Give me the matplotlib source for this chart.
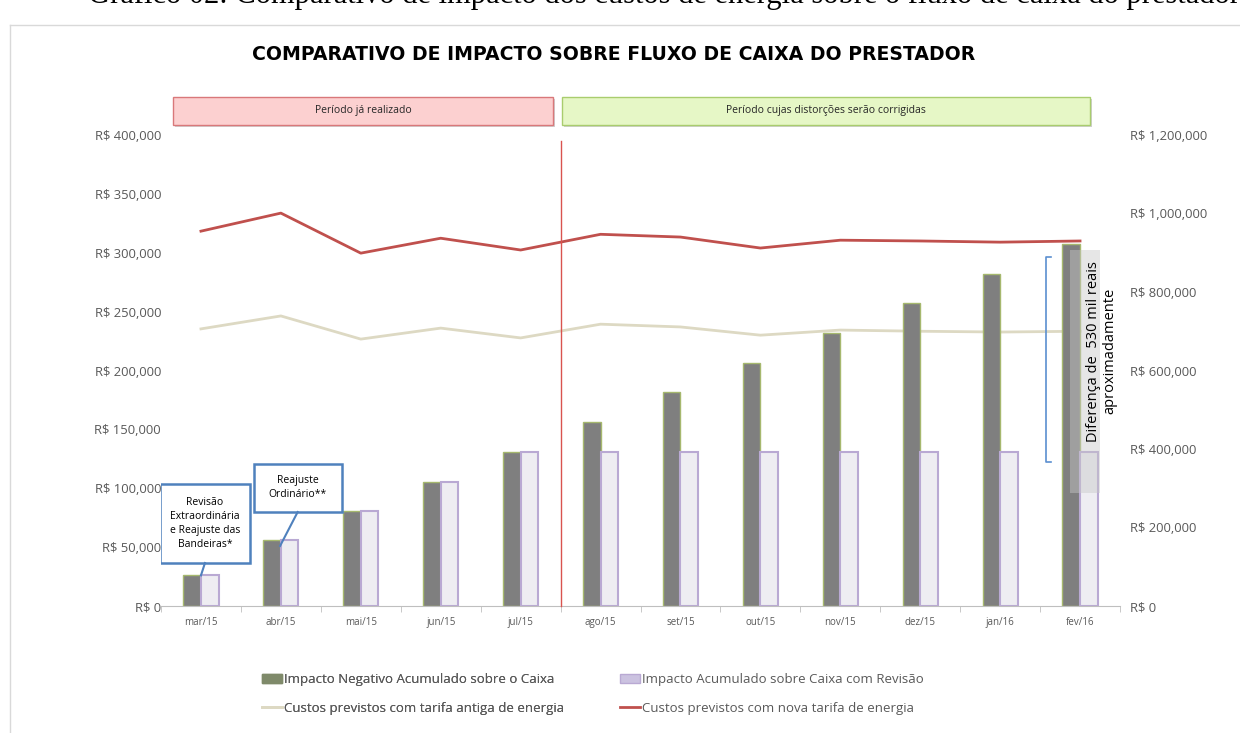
import numpy as np
import matplotlib.pyplot as plt
import matplotlib.patches as mpatches
from matplotlib.lines import Line2D
from matplotlib.ticker import FuncFormatter

months = ["mar/15", "abr/15", "mai/15", "jun/15", "jul/15", "ago/15",
          "set/15", "out/15", "nov/15", "dez/15", "jan/16", "fev/16"]
impacto_negativo = [26000, 56000, 80500, 105500, 130500, 156000,
                    181500, 206500, 232000, 257000, 282000, 307500]
impacto_revisao = [26000, 56000, 80500, 105500, 130500, 130500,
                   130500, 130500, 130500, 130500, 130500, 130500]
custo_antigo = [706000, 739000, 680000, 708000, 683000, 718000,
                711000, 690000, 703000, 700000, 698000, 700000]
custo_novo = [955000, 1001000, 899000, 937000, 907000, 947000,
              940000, 912000, 932000, 930000, 927000, 930000]

left_ticks = [0, 50000, 100000, 150000, 200000, 250000, 300000, 350000, 400000]
right_ticks = [0, 200000, 400000, 600000, 800000, 1000000, 1200000]

FONT = "Open Sans"
GRAY_TXT = "#595959"

fig = plt.figure(figsize=(12.4, 7.33), dpi=100)

# caption of the document (cut at top, as in the source page) and chart frame
fig.text(88 / 1240, 1 - 3.5 / 733, "Gráfico 02: Comparativo de impacto dos custos de energia sobre o fluxo de caixa do prestador",
         family="Liberation Serif", fontsize=22, va="baseline", ha="left")
fig.add_artist(Line2D([10 / 1240, 1], [1 - 25 / 733, 1 - 25 / 733], color="#d9d9d9", lw=1))
fig.add_artist(Line2D([10 / 1240, 10 / 1240], [0, 1 - 25 / 733], color="#d9d9d9", lw=1))

fig.text(614 / 1240, 1 - 54 / 733, "COMPARATIVO DE IMPACTO SOBRE FLUXO DE CAIXA DO PRESTADOR",
         family="DejaVu Sans", fontsize=13.6, fontweight="bold", ha="center", va="center")

# period header boxes
for x0, x1, fc, ec, label in [(173, 553, "#fcd0d0", "#d9787a", "Período já realizado"),
                              (562, 1090, "#e6f7c6", "#a9cd6e", "Período cujas distorções serão corrigidas")]:
    shadow = mpatches.Rectangle(((x0 + 2) / 1240, 1 - 127 / 733), (x1 - x0) / 1240, 28 / 733,
                                transform=fig.transFigure, facecolor="#d0d0d0", edgecolor="none")
    fig.add_artist(shadow)
    box = mpatches.Rectangle((x0 / 1240, 1 - 125 / 733), (x1 - x0) / 1240, 28 / 733,
                             transform=fig.transFigure, facecolor=fc, edgecolor=ec, lw=1)
    fig.add_artist(box)
    fig.text((x0 + x1) / 2 / 1240, 1 - 111 / 733, label, family=FONT, fontsize=7.5,
             ha="center", va="center", color="#262626")

ax = fig.add_axes([161 / 1240, 1 - 606 / 733, 959 / 1240, 471 / 733])
ax2 = ax.twinx()

x = np.arange(len(months))
w = 0.22
ax.bar(x - w / 2, impacto_negativo, width=w, color="#7f7f7f", edgecolor="#a6b86e", lw=1, zorder=2)
ax.bar(x + w / 2, impacto_revisao, width=w, color="#eeedf2", edgecolor="#b9a9d3", lw=1.5, zorder=2)

ax2.plot(x, custo_antigo, color="#ddd9c3", lw=2, zorder=3)
ax2.plot(x, custo_novo, color="#c0504d", lw=2, zorder=3)

ax.set_xlim(-0.5, 11.5)
ax.set_ylim(0, 400000)
ax2.set_ylim(0, 1200000)
ax.set_yticks(left_ticks)
ax2.set_yticks(right_ticks)
ax.yaxis.set_major_formatter(FuncFormatter(lambda v, p: "R$ {:,.0f}".format(v)))
ax2.yaxis.set_major_formatter(FuncFormatter(lambda v, p: "R$ {:,.0f}".format(v)))

ax.set_xticks(x)
ax.set_xticklabels(months)
ax.set_xticks(np.arange(-0.5, 12, 1), minor=True)
ax.tick_params(axis="x", which="major", length=0, labelsize=7, labelcolor=GRAY_TXT, pad=8)
ax.tick_params(axis="x", which="minor", length=4, color="#bfbfbf", direction="out")
ax.tick_params(axis="y", length=0, labelsize=9.4, labelcolor=GRAY_TXT, pad=0)
ax2.tick_params(axis="y", length=0, labelsize=9.4, labelcolor=GRAY_TXT, pad=7.5)
for lab in ax.get_xticklabels() + ax.get_yticklabels() + ax2.get_yticklabels():
    lab.set_family(FONT)

for a in (ax, ax2):
    for s in ["top", "left", "right"]:
        a.spines[s].set_visible(False)
    a.spines["bottom"].set_color("#bfbfbf")
ax2.spines["bottom"].set_visible(False)
ax.set_zorder(ax2.get_zorder() + 1)
ax.patch.set_visible(False)

# divider between periods
ax.plot([4.5, 4.5], [0, 395000], color="#d9534f", lw=1, zorder=4, clip_on=False)

# callouts
box_style = dict(facecolor="white", edgecolor="#4f81bd", lw=1.8, zorder=6)
ax.add_patch(mpatches.Rectangle((-0.51, 36500), 1.12, 67000, **box_style))
ax.plot([0.05, 0.0], [36500, 26000], color="#4f81bd", lw=1.5, zorder=6)
ax.text(0.05, 70000, "Revisão\nExtraordinária\ne Reajuste das\nBandeiras*", ha="center", va="center",
        family=FONT, fontsize=7.5, zorder=7, linespacing=1.4)
ax.add_patch(mpatches.Rectangle((0.66, 79800), 1.1, 40800, **box_style))
ax.plot([1.21, 0.99], [79800, 51000], color="#4f81bd", lw=1.5, zorder=6)
ax.text(1.21, 100500, "Reajuste\nOrdinário**", ha="center", va="center",
        family=FONT, fontsize=7.5, zorder=7, linespacing=1.4)

# difference bracket and note
ax.plot([10.64, 10.58, 10.58, 10.64], [296300, 296300, 122300, 122300], color="#5b8fd0", lw=1.2, zorder=5)
ax.add_patch(mpatches.Rectangle((10.88, 96000), 0.37, 206000, facecolor="#c8c8c8", alpha=0.45,
                                edgecolor="none", zorder=5))
ax.text(11.27, 216500, "Diferença de  530 mil reais\naproximadamente", rotation=90,
        ha="center", va="center", multialignment="center", family=FONT, fontsize=10.5, zorder=7)

# legend: two single-column blocks
leg_kw = dict(loc="center left", frameon=False, prop={"family": FONT, "size": 9.5}, labelcolor="#595959",
              handlelength=1.5, handletextpad=0.2, labelspacing=1.15, borderpad=0, borderaxespad=0)
col1 = [mpatches.Patch(facecolor="#7f8a6a", edgecolor="#7f8a6a", label="Impacto Negativo Acumulado sobre o Caixa"),
        Line2D([], [], color="#ddd9c3", lw=2, label="Custos previstos com tarifa antiga de energia")]
col2 = [mpatches.Patch(facecolor="#cbc2e0", edgecolor="#b9a9d3", label="Impacto Acumulado sobre Caixa com Revisão"),
        Line2D([], [], color="#c0504d", lw=2, label="Custos previstos com nova tarifa de energia")]
leg1 = fig.legend(handles=col1, bbox_to_anchor=(262 / 1240, 1 - 694 / 733), **leg_kw)
fig.add_artist(leg1)
fig.legend(handles=col2, bbox_to_anchor=(620 / 1240, 1 - 694 / 733), **leg_kw)

fig.savefig("out.png", dpi=100)
